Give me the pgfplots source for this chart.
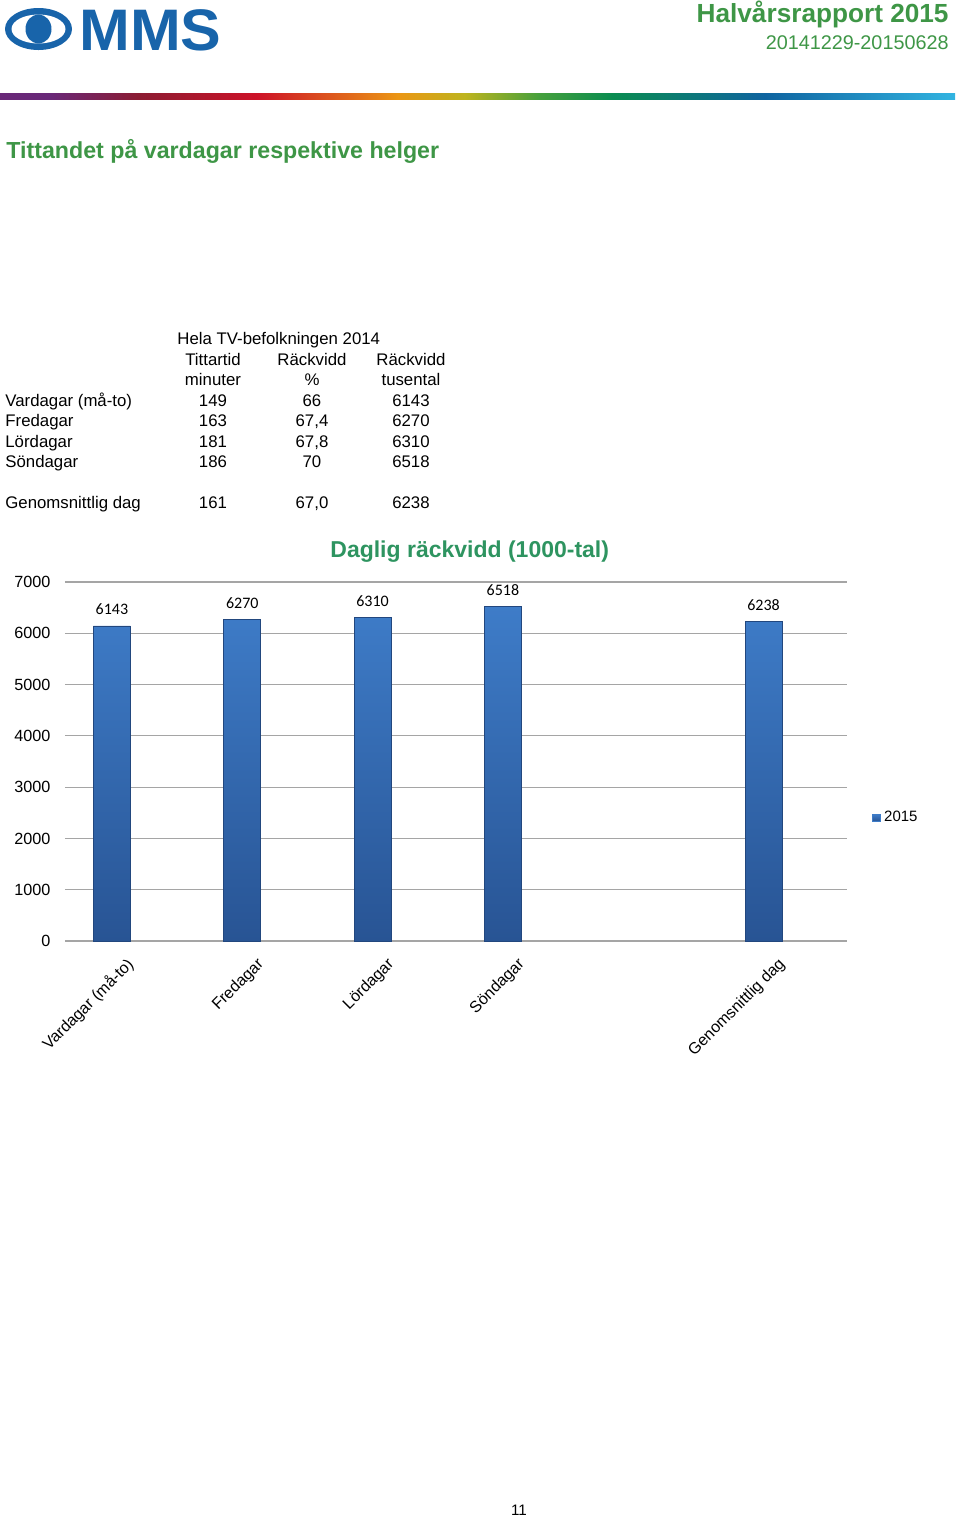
\documentclass[border=0pt]{standalone}
\usepackage{fontspec}
\setmainfont{Liberation Sans}
\newfontfamily\calibri{Carlito}
\usepackage{pgfplots}
\pgfplotsset{compat=1.18}
\definecolor{hdrgreen}{RGB}{62,150,70}
\definecolor{chgreen}{RGB}{46,148,96}
\definecolor{logoblue}{RGB}{24,100,170}
\definecolor{barTop}{RGB}{62,124,200}
\definecolor{barBot}{RGB}{40,84,148}
\definecolor{gridgray}{RGB}{165,165,165}
\definecolor{rb0}{RGB}{105,40,120}
\definecolor{rb1}{RGB}{140,28,50}
\definecolor{rb2}{RGB}{205,18,40}
\definecolor{rb3}{RGB}{235,150,20}
\definecolor{rb4}{RGB}{190,180,30}
\definecolor{rb5}{RGB}{70,160,60}
\definecolor{rb6}{RGB}{10,140,80}
\definecolor{rb7}{RGB}{15,100,160}
\definecolor{rb8}{RGB}{50,180,225}
\begin{document}
\begin{tikzpicture}[x=0.5pt,y=-0.5pt]
\useasboundingbox (0,0) rectangle (960,1517);
% logo
\fill[logoblue] (38.5,29) ellipse [x radius=16.75pt, y radius=10.5pt];
\fill[white] (38.5,29) ellipse [x radius=13.5pt, y radius=7.25pt];
\fill[logoblue] (38.5,29) ellipse [x radius=6.5pt, y radius=7.25pt];
\node[anchor=base west, inner sep=0, text=logoblue, font=\fontsize{29.3}{30}\selectfont\bfseries, xscale=1.04] at (79,50) {MMS};
% header
\node[anchor=base east, inner sep=0, text=hdrgreen, font=\fontsize{13.1}{15}\selectfont\bfseries] at (949,22) {Halvårsrapport 2015};
\node[anchor=base east, inner sep=0, text=hdrgreen, font=\fontsize{9.9}{12}\selectfont] at (949,49) {20141229-20150628};
% rainbow
\shade[left color=rb0, right color=rb0] (0,93) rectangle (50,99);
\shade[left color=rb0, right color=rb1] (50,93) rectangle (140,99);
\shade[left color=rb1, right color=rb2] (140,93) rectangle (257,99);
\shade[left color=rb2, right color=rb3] (257,93) rectangle (398,99);
\shade[left color=rb3, right color=rb4] (398,93) rectangle (465,99);
\shade[left color=rb4, right color=rb5] (465,93) rectangle (539,99);
\shade[left color=rb5, right color=rb6] (539,93) rectangle (612,99);
\shade[left color=rb6, right color=rb7] (612,93) rectangle (765,99);
\shade[left color=rb7, right color=rb8] (765,93) rectangle (955,99);
% title
\node[anchor=base west, inner sep=0, text=hdrgreen, font=\fontsize{11.6}{14}\selectfont\bfseries] at (6,158) {Tittandet på vardagar respektive helger};
% table
\begin{scope}[every node/.style={inner sep=0, font=\fontsize{8.4}{10}\selectfont}]
\node[anchor=base west] at (177,344) {Hela TV-befolkningen 2014};
\node[anchor=base] at (213,365) {Tittartid};
\node[anchor=base] at (312,365) {Räckvidd};
\node[anchor=base] at (411,365) {Räckvidd};
\node[anchor=base] at (213,385) {minuter};
\node[anchor=base] at (312,385) {\%};
\node[anchor=base] at (411,385) {tusental};
\node[anchor=base west] at (5,406) {Vardagar (må-to)};
\node[anchor=base] at (213,406) {149};
\node[anchor=base] at (312,406) {66};
\node[anchor=base] at (411,406) {6143};
\node[anchor=base west] at (5,426) {Fredagar};
\node[anchor=base] at (213,426) {163};
\node[anchor=base] at (312,426) {67,4};
\node[anchor=base] at (411,426) {6270};
\node[anchor=base west] at (5,447) {Lördagar};
\node[anchor=base] at (213,447) {181};
\node[anchor=base] at (312,447) {67,8};
\node[anchor=base] at (411,447) {6310};
\node[anchor=base west] at (5,467) {Söndagar};
\node[anchor=base] at (213,467) {186};
\node[anchor=base] at (312,467) {70};
\node[anchor=base] at (411,467) {6518};
\node[anchor=base west] at (5,508) {Genomsnittlig dag};
\node[anchor=base] at (213,508) {161};
\node[anchor=base] at (312,508) {67,0};
\node[anchor=base] at (411,508) {6238};
\end{scope}
% chart title
\node[anchor=base west, inner sep=0, text=chgreen, font=\fontsize{11.5}{14}\selectfont\bfseries] at (330,557) {Daglig räckvidd (1000-tal)};
% page number
\node[anchor=base, inner sep=0, font=\fontsize{7.6}{9}\selectfont] at (519,1515) {11};
\begin{axis}[
  at={(32.5pt,-470.5pt)}, anchor=south west,
  width=391pt, height=179.5pt, scale only axis,
  xmin=-0.36, xmax=5.64, ymin=0, ymax=7000,
  ytick={0,1000,...,7000},
  xtick={0,1,2,3,5},
  xticklabels={Vardagar (må-to),Fredagar,Lördagar,Söndagar,Genomsnittlig dag},
  ymajorgrids, grid style={gridgray, line width=0.6pt},
  axis line style={draw=none}, major tick length=0,
  /pgf/number format/assume math mode=true,
  scaled y ticks=false,
  yticklabel style={/pgf/number format/1000 sep={}, font=\fontsize{8.1}{10}\selectfont, xshift=-3.8pt},
  xticklabel style={xshift=12pt, yshift=-8pt, rotate=45, anchor=east, font=\fontsize{8}{10}\selectfont},
  legend style={at={(1.032,0.343)}, anchor=west, draw=none, fill=none, font=\fontsize{7.5}{9}\selectfont, inner sep=0pt},
  legend image code/.code={\fill[barTop] (0pt,-1.75pt) rectangle (3.6pt,1.75pt);},
]
\addplot[ybar, bar width=18.5pt, draw=barBot!85!black, line width=0.3pt,
  top color=barTop, bottom color=barBot,
  nodes near coords,
  nodes near coords style={font=\calibri\fontsize{8}{9}\selectfont, text=black, yshift=2pt, /pgf/number format/1000 sep={}}]
  coordinates {(0,6143) (1,6270) (2,6310) (3,6518) (5,6238)};
\addlegendentry{2015}
\end{axis}
\end{tikzpicture}
\end{document}
